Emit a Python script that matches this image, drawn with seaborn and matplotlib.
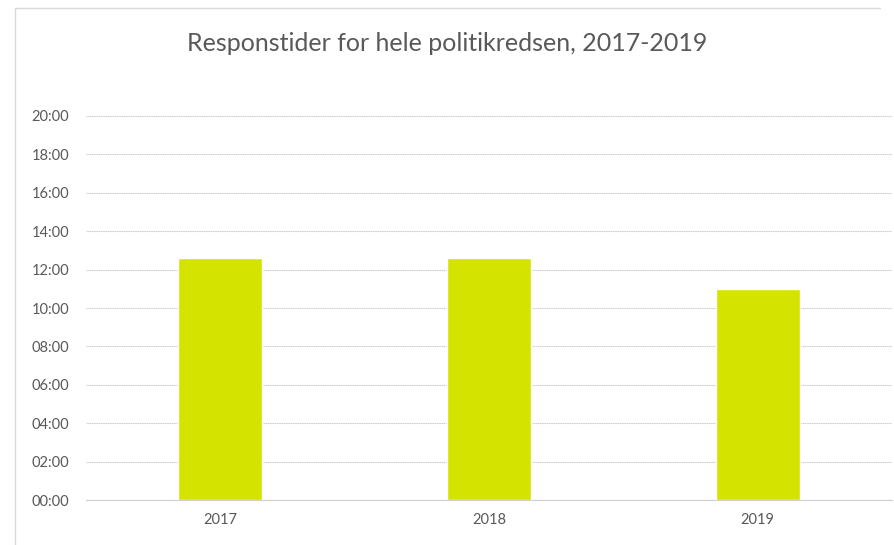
import matplotlib
matplotlib.use('Agg')
import matplotlib.pyplot as plt
from matplotlib.lines import Line2D
from matplotlib.ticker import FuncFormatter, MultipleLocator
import seaborn as sns
import pandas as pd

# response times in minutes
years = ['2017', '2018', '2019']
minutes = [12.6, 12.6, 11.0]
title = 'Responstider for hele politikredsen, 2017-2019'

df = pd.DataFrame({'aar': years, 'minutter': minutes})

sns.set_style('white')
plt.rcParams['font.family'] = ['Lato', 'DejaVu Sans']

fig = plt.figure(figsize=(8.94, 5.45), dpi=100)
ax = fig.add_axes([86 / 894, 45 / 545, 806 / 894, 384 / 545])

sns.barplot(data=df, x='aar', y='minutter', color='#d4e300', width=0.313,
            saturation=1, ax=ax)

ax.set_ylim(0, 20)
ax.set_xlim(-0.5, 2.5)
ax.yaxis.set_major_locator(MultipleLocator(2))
ax.yaxis.set_major_formatter(FuncFormatter(lambda v, p: '%02d:00' % int(round(v))))
ax.grid(axis='y', color='#c8c8c8', linestyle=(0, (1, 0.6)), linewidth=0.8)
ax.grid(axis='x', visible=False)
ax.set_axisbelow(True)
sns.despine(ax=ax, left=True, right=True, top=True)
ax.spines['bottom'].set_color('#d0d0d0')
ax.tick_params(axis='both', length=0, labelsize=10.5, colors='#595959', pad=12)
ax.tick_params(axis='x', pad=9)
ax.set_xlabel('')
ax.set_ylabel('')

fig.text(0.5, 1 - 43 / 545, title, ha='center', va='center', fontsize=18, color='#595959')

# chart border: top and left edges
top = 1 - 8 / 545
left = 15 / 894
fig.add_artist(Line2D([left, left, 880 / 894], [0, top, top], transform=fig.transFigure,
                      color='#d9d9d9', linewidth=1))

fig.savefig('out.png', dpi=100)
